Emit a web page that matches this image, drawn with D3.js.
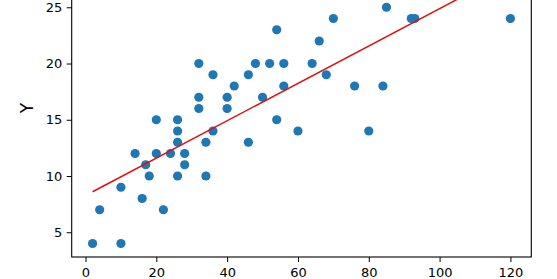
<!DOCTYPE html>
<html>
<head>
<meta charset="utf-8">
<script src="https://cdn.jsdelivr.net/npm/d3@7"></script>
<style>
  html, body { margin: 0; padding: 0; background: #fff; }
  svg { display: block; }
  text { font-family: "DejaVu Sans", sans-serif; fill: #000; }
</style>
</head>
<body>
<svg id="chart" width="557" height="279"></svg>
<script>
// Data
const xValues = [2,4,10,10,14,16,17,18,20,20,22,24,26,26,26,26,28,28,32,32,32,34,34,36,36,40,40,42,46,46,48,50,52,54,54,56,56,60,64,66,68,70,76,80,84,85,92,93,120];
const yValues = [4,7,4,9,12,8,11,10,15,12,7,12,15,14,13,10,12,11,20,17,16,13,10,19,14,17,16,18,19,13,20,17,20,23,15,20,18,14,20,22,19,24,18,14,18,25,24,24,24];
const fitX = [2, 120];
const fitY = [8.6, 28.2];
const xTicks = [0, 20, 40, 60, 80, 100, 120];
const yTicks = [5, 10, 15, 20, 25];
const yLabel = "Y";

const svg = d3.select("#chart");
const pLeft = 71.7, pRight = 531.3, pBottom = 257, pTop = -41.1;

const x = d3.scaleLinear().domain([-3.9, 125.9]).range([pLeft, pRight]);
const y = d3.scaleLinear().domain([2.8, 29.3]).range([pBottom, pTop]);

// points
svg.append("g").selectAll("circle")
  .data(xValues.map((v, i) => [v, yValues[i]]))
  .join("circle")
  .attr("cx", d => x(d[0]))
  .attr("cy", d => y(d[1]))
  .attr("r", 4.6)
  .attr("fill", "#1f77b4");

// fit line
svg.append("path")
  .datum(fitX.map((v, i) => [v, fitY[i]]))
  .attr("d", d3.line().x(d => x(d[0])).y(d => y(d[1])))
  .attr("fill", "none")
  .attr("stroke", "#e01010")
  .attr("stroke-width", 1.5);

// axes
const xAxis = d3.axisBottom(x).tickValues(xTicks).tickSize(5).tickPadding(6).tickSizeOuter(0);
const yAxis = d3.axisLeft(y).tickValues(yTicks).tickSize(5).tickPadding(4.5).tickSizeOuter(0);

const gx = svg.append("g").attr("transform", `translate(0,${pBottom})`).call(xAxis);
const gy = svg.append("g").attr("transform", `translate(${pLeft},0)`).call(yAxis);
[gx, gy].forEach(g => {
  g.select(".domain").remove();
  g.selectAll(".tick line").attr("stroke", "#000").attr("stroke-width", 1);
  g.selectAll(".tick text").attr("font-size", 13).attr("font-family", "DejaVu Sans").attr("fill", "#1a1a1a");
});

// spines
svg.append("rect")
  .attr("x", pLeft).attr("y", pTop)
  .attr("width", pRight - pLeft).attr("height", pBottom - pTop)
  .attr("fill", "none").attr("stroke", "#000").attr("stroke-width", 1.1);

// y label
svg.append("text")
  .attr("transform", `translate(33,${(pTop + pBottom) / 2}) rotate(-90)`)
  .attr("text-anchor", "middle")
  .attr("font-size", 17)
  .attr("fill", "#1a1a1a")
  .text(yLabel);
</script>
</body>
</html>
